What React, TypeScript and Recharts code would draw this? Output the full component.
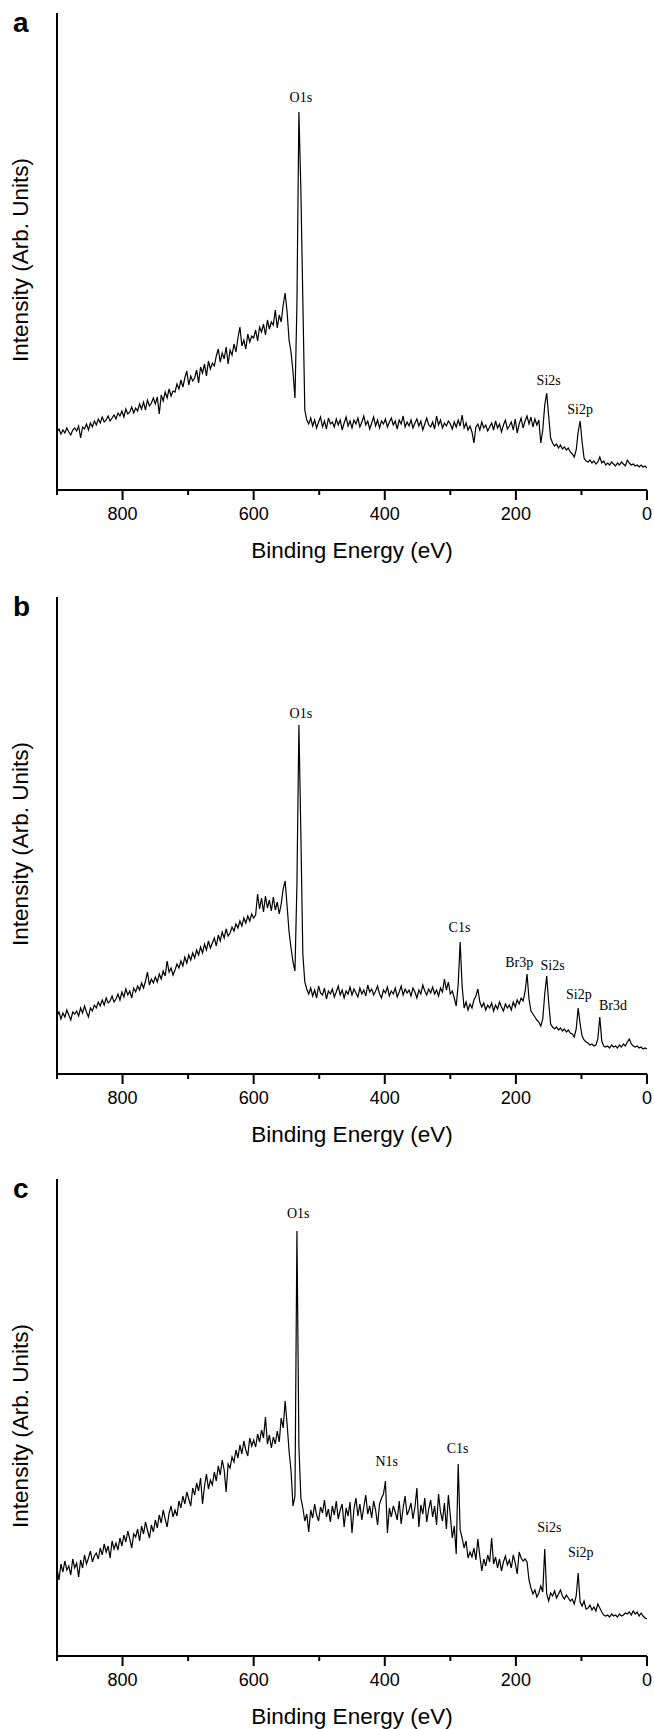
import React from 'react';
import { LineChart, Line, XAxis, YAxis, ReferenceDot } from 'recharts';

// sampling grid of the survey scans, 900 -> 0 eV in 3 eV steps (301 points)
const energies = Array.from({ length: 301 }, (_, i) => 900 - i * 3);

// intensities (arb. units, 0..477 = axis height)
const intensityA = [
  58, 61, 56, 60, 57, 62, 58, 55, 60, 62,
  59, 64, 52, 63, 61, 66, 60, 67, 63, 69,
  65, 71, 67, 73, 68, 70, 74, 69, 72, 75,
  71, 77, 74, 79, 73, 81, 76, 78, 83, 77,
  82, 79, 86, 81, 88, 80, 90, 84, 87, 92,
  86, 93, 76, 95, 89, 98, 92, 101, 94, 99,
  98, 106, 101, 110, 103, 112, 119, 105, 114, 109,
  112, 120, 107, 123, 117, 126, 114, 129, 121, 127,
  124, 134, 141, 128, 137, 131, 143, 126, 140, 135,
  146, 138, 152, 163, 144, 150, 141, 156, 148, 154,
  152, 160, 149, 163, 158, 166, 155, 170, 161, 168,
  165, 180, 162, 175, 168, 185, 197, 178, 150, 138,
  118, 92, 186, 378, 300, 190, 80, 70, 66, 72,
  64, 70, 62, 68, 73, 63, 69, 61, 72, 66,
  68, 63, 71, 65, 70, 60, 67, 73, 64, 69,
  62, 70, 66, 72, 63, 68, 74, 65, 69, 61,
  67, 73, 64, 70, 62, 69, 66, 71, 63, 68,
  72, 65, 69, 61, 70, 66, 74, 63, 68, 64,
  70, 62, 67, 71, 64, 69, 60, 66, 72, 65,
  63, 68, 61, 74, 65, 70, 62, 67, 64, 69,
  66, 61, 68, 63, 70, 64, 75, 62, 67, 60,
  64, 58, 47, 63, 66, 60, 68, 62, 65, 59,
  63, 67, 60, 69, 62, 66, 58, 65, 70, 61,
  64, 68, 60, 71, 57, 66, 72, 62, 69, 74,
  66, 73, 63, 71, 65, 70, 47, 60, 85, 97,
  74, 52, 47, 44, 46, 42, 45, 41, 43, 40,
  42, 38, 36, 33, 40, 58, 69, 48, 32, 29,
  28, 30, 27, 29, 26, 28, 33, 27, 29, 25,
  27, 25, 28, 26, 24, 27, 25, 28, 26, 24,
  30, 27, 25, 26, 24, 25, 23, 25, 23, 24,
  22,
];

const intensityB = [
  58, 62, 55, 61, 57, 64, 59, 54, 62, 60,
  63, 58, 66, 61, 68, 62, 57, 66, 63, 69,
  66, 72, 68, 74, 69, 76, 71, 73, 78, 72,
  75, 80, 74, 82, 77, 85, 79, 83, 76, 86,
  82, 88, 84, 91, 86, 93, 102, 89, 95, 91,
  97, 92, 100, 95, 103, 98, 113, 102, 106, 99,
  104, 110, 106, 113, 108, 117, 111, 119, 114, 121,
  116, 124, 119, 127, 121, 130, 124, 133, 126, 131,
  136, 128, 139, 133, 142, 136, 145, 138, 141, 147,
  143, 150, 146, 153, 148, 156, 151, 158, 153, 160,
  156, 159, 180, 165, 176, 162, 178, 166, 174, 163,
  177, 164, 172, 160, 170, 185, 193, 168, 142, 126,
  112, 103, 190, 349, 240, 120, 92, 85, 80, 86,
  78, 84, 76, 88, 81, 79, 86, 75, 83, 80,
  85, 77, 82, 88, 79, 84, 76, 83, 80, 87,
  79, 85, 81, 77, 86, 80, 84, 78, 89, 82,
  85, 79, 83, 88, 80, 76, 84, 81, 87, 78,
  83, 80, 86, 77, 82, 88, 79, 85, 81, 84,
  78, 86, 82, 76, 84, 80, 89, 83, 79, 85,
  81, 87, 80, 84, 78, 86, 82, 95, 84, 92,
  80, 83, 76, 68, 90, 132, 88, 66, 72, 64,
  70, 66, 74, 78, 85, 72, 67, 71, 64, 69,
  66, 71, 63, 69, 65, 72, 67, 63, 70, 66,
  69, 64, 72, 67, 74, 70, 76, 73, 82, 100,
  75, 63, 60, 57, 54, 52, 48, 55, 80, 98,
  72, 50, 47, 45, 47, 44, 46, 43, 45, 42,
  44, 41, 40, 37, 45, 66, 50, 38, 34, 32,
  31, 29, 30, 28, 29, 35, 57, 33, 28, 27,
  28, 26, 29, 27, 28, 26, 29, 27, 30, 28,
  32, 35, 30, 28, 27, 28, 26, 27, 25, 26,
  25,
];

const intensityC = [
  88, 76, 92, 84, 95, 86, 90, 81, 97, 88,
  93, 79, 96, 88, 101, 92, 98, 105, 94, 100,
  103, 97, 108, 101, 112, 104, 110, 98, 115, 107,
  113, 106, 118, 110, 121, 114, 125, 117, 108, 122,
  119, 127, 115, 130, 122, 134, 126, 118, 131, 124,
  136, 128, 141, 133, 146, 137, 129, 143, 150, 139,
  146, 140, 155, 148, 160, 152, 164, 157, 150, 168,
  161, 173, 165, 178, 152, 170, 182, 167, 176, 171,
  184, 175, 190, 181, 196, 186, 164, 192, 188, 199,
  194, 206, 198, 211, 202, 215, 206, 200, 218, 210,
  216, 209, 222, 214, 226, 218, 239, 212, 221, 208,
  219, 212, 225, 214, 238, 228, 255, 232, 205, 185,
  150, 160, 425, 210, 158, 148, 135, 142, 124, 146,
  138, 152, 141, 135, 149, 143, 156, 139, 147, 134,
  150, 141, 155, 137, 146, 152, 129, 148, 140, 154,
  123, 147, 158, 140, 152, 136, 149, 161, 142, 150,
  138, 155, 146, 131, 152, 158, 162, 175, 123, 148,
  139, 150, 144, 136, 155, 132, 148, 160, 141, 146,
  153, 137, 149, 168, 129, 151, 142, 158, 134, 147,
  156, 139, 150, 131, 162, 144, 135, 153, 127, 161,
  140, 118, 130, 102, 192, 126, 118, 108, 115, 98,
  104, 99, 108, 96, 117, 100, 85, 97, 90, 101,
  94, 118, 92, 99, 88, 97, 85, 94, 100, 91,
  96, 88, 101, 93, 82, 104, 98, 95, 97, 94,
  76, 68, 62, 66, 59, 63, 70, 64, 107, 62,
  55, 63, 60, 65, 58, 62, 66, 60, 57, 61,
  58, 55, 57, 52, 60, 83, 54, 50, 55, 47,
  48, 51, 46, 49, 45, 52, 48, 44, 41, 40,
  41, 39, 42, 40, 41, 39, 42, 40, 41, 43,
  42, 44, 41, 45, 42, 44, 40, 43, 40, 38,
  37,
];

// peak labels: name, energy (eV) and intensity where the text sits
const peaksA = [
  { name: 'O1s', e: 528, h: 393 },
  { name: 'Si2s', e: 150, h: 110 },
  { name: 'Si2p', e: 102, h: 81 },
];
const peaksB = [
  { name: 'O1s', e: 528, h: 361 },
  { name: 'C1s', e: 286, h: 147 },
  { name: 'Br3p', e: 195, h: 112 },
  { name: 'Si2s', e: 144, h: 109 },
  { name: 'Si2p', e: 104, h: 80 },
  { name: 'Br3d', e: 52, h: 69 },
];
const peaksC = [
  { name: 'O1s', e: 532, h: 443 },
  { name: 'N1s', e: 397, h: 195 },
  { name: 'C1s', e: 289, h: 208 },
  { name: 'Si2s', e: 149, h: 129 },
  { name: 'Si2p', e: 101, h: 104 },
];

const xTicks = [0, 100, 200, 300, 400, 500, 600, 700, 800, 900];
const xLabelled = [0, 200, 400, 600, 800];

const sans = '"Liberation Sans", Arial, sans-serif';
const serif = '"Liberation Serif", "Times New Roman", serif';

const EnergyTick = (props: any) => {
  const { x, y, payload } = props;
  const major = xLabelled.includes(payload.value);
  return (
    <g>
      <line x1={x} x2={x} y1={y} y2={y + (major ? 10 : 5)} stroke="#000" strokeWidth={2} />
      {major && (
        <text x={x} y={y + 30} textAnchor="middle" fontFamily={sans} fontSize={18} fill="#000">
          {payload.value}
        </text>
      )}
    </g>
  );
};

interface PanelProps {
  top: number;
  letter: string;
  values: number[];
  peaks: { name: string; e: number; h: number }[];
}

const Panel: React.FC<PanelProps> = ({ top, letter, values, peaks }) => {
  const data = energies.map((e, i) => ({ e, v: values[i] }));
  return (
    <div style={{ position: 'absolute', left: 0, top, width: 654, height: 560 }}>
      <LineChart width={654} height={560} data={data} margin={{ top: 13, right: 7, bottom: 0, left: 0 }}>
        <XAxis
          type="number"
          dataKey="e"
          domain={[0, 900]}
          reversed
          allowDataOverflow
          ticks={xTicks}
          interval={0}
          tickLine={false}
          tickSize={0}
          tickMargin={0}
          height={70}
          axisLine={{ stroke: '#000', strokeWidth: 2 }}
          tick={(p: any) => <EnergyTick {...p} />}
        />
        <YAxis
          type="number"
          domain={[0, 477]}
          allowDataOverflow
          width={57}
          tick={false}
          tickLine={false}
          axisLine={{ stroke: '#000', strokeWidth: 2 }}
        />
        <Line
          type="linear"
          dataKey="v"
          stroke="#000"
          strokeWidth={1.2}
          dot={false}
          isAnimationActive={false}
        />
        {peaks.map((p) => (
          <ReferenceDot
            key={p.name}
            x={p.e}
            y={p.h}
            r={0}
            ifOverflow="visible"
            shape={(s: any) => (
              <text x={s.cx} y={s.cy + 5} textAnchor="middle" fontFamily={serif} fontSize={14} fill="#000">
                {p.name}
              </text>
            )}
          />
        ))}
      </LineChart>
      <svg
        width={654}
        height={560}
        style={{ position: 'absolute', left: 0, top: 0, overflow: 'visible', pointerEvents: 'none' }}
      >
        <text x={13} y={32} fontFamily={sans} fontWeight="bold" fontSize={28} fill="#000">
          {letter}
        </text>
        <text
          transform="translate(28,260) rotate(-90)"
          textAnchor="middle"
          fontFamily={sans}
          fontSize={22.5}
          fill="#000"
        >
          Intensity (Arb. Units)
        </text>
        <text x={352} y={558} textAnchor="middle" fontFamily={sans} fontSize={22.5} fill="#000">
          Binding Energy (eV)
        </text>
      </svg>
    </div>
  );
};

export default function App() {
  return (
    <div
      style={{
        position: 'absolute',
        left: 0,
        top: 0,
        width: 654,
        height: 1729,
        overflow: 'hidden',
        background: '#fff',
      }}
    >
      <Panel top={0} letter="a" values={intensityA} peaks={peaksA} />
      <Panel top={584} letter="b" values={intensityB} peaks={peaksB} />
      <Panel top={1166} letter="c" values={intensityC} peaks={peaksC} />
    </div>
  );
}
